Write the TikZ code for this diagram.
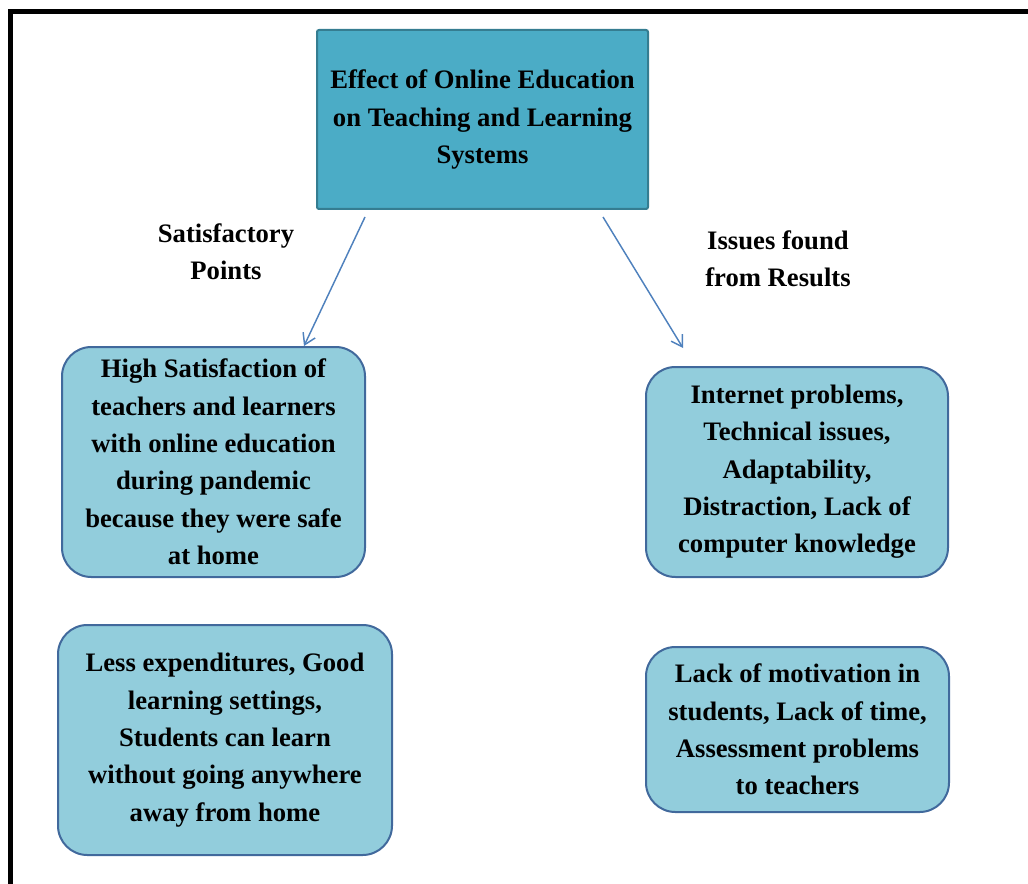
\documentclass[tikz,border=0pt]{standalone}
\usepackage{xcolor}
\usepackage{fontspec}
\setmainfont{Liberation Serif}
\usepackage{tikz}
\usetikzlibrary{shapes,arrows,positioning,calc,arrows.meta}

\definecolor{topfill}{HTML}{4BACC6}
\definecolor{topline}{HTML}{357D91}
\definecolor{boxfill}{HTML}{92CDDC}
\definecolor{boxline}{HTML}{41699C}
\definecolor{arrowblue}{HTML}{4F81BD}

\begin{document}
\begin{tikzpicture}[x=0.75pt, y=-0.75pt,
    textfont/.style={font=\fontsize{20}{28}\selectfont\bfseries, align=center, inner sep=0pt},
    mainbox/.style={textfont, draw=topline, fill=topfill, line width=1.5pt, rounded corners=1.5pt},
    pointbox/.style={textfont, draw=boxline, fill=boxfill, line width=1.5pt, rounded corners=22pt},
    arrowline/.style={arrowblue, line width=1.1pt, -{Straight Barb[length=8pt, width=10pt]}}]
    \useasboundingbox (0,0) rectangle (1028,884);

    % Frame
    \draw[line width=3.75pt, miter limit=4] (10.5,900) -- (10.5,11.5) -- (1040,11.5);

    % Main topic
    \node[mainbox, minimum width=248.25pt, minimum height=134.25pt] (main) at (482.5,119.5)
        {Effect of Online Education\\on Teaching and Learning\\Systems};

    % Branch labels
    \node[textfont] (satLabel) at (226,252) {Satisfactory\\Points};
    \node[textfont] (issueLabel) at (778,259) {Issues found\\from Results};

    % Satisfactory points
    \node[pointbox, minimum width=227.25pt, minimum height=172.5pt] (highSat) at (213.5,462)
        {High Satisfaction of\\teachers and learners\\with online education\\during pandemic\\because they were safe\\at home};
    \node[pointbox, minimum width=250.5pt, minimum height=172.5pt] (lessExp) at (225,740)
        {Less expenditures, Good\\learning settings,\\Students can learn\\without going anywhere\\away from home};

    % Issues
    \node[pointbox, minimum width=226.5pt, minimum height=157.5pt] (internet) at (797,472)
        {Internet problems,\\Technical issues,\\Adaptability,\\Distraction, Lack of\\computer knowledge};
    \node[pointbox, minimum width=227.25pt, minimum height=123.75pt] (motivation) at (797.5,729.5)
        {Lack of motivation in\\students, Lack of time,\\Assessment problems\\to teachers};

    % Arrows
    \coordinate (satStart) at (365,217);
    \coordinate (issueStart) at (603,217);
    \coordinate (issueEnd) at (683,348);
    \draw[arrowline] (satStart) -- (highSat.north -| 304,0);
    \draw[arrowline] (issueStart) -- (issueEnd);

\end{tikzpicture}
\end{document}
